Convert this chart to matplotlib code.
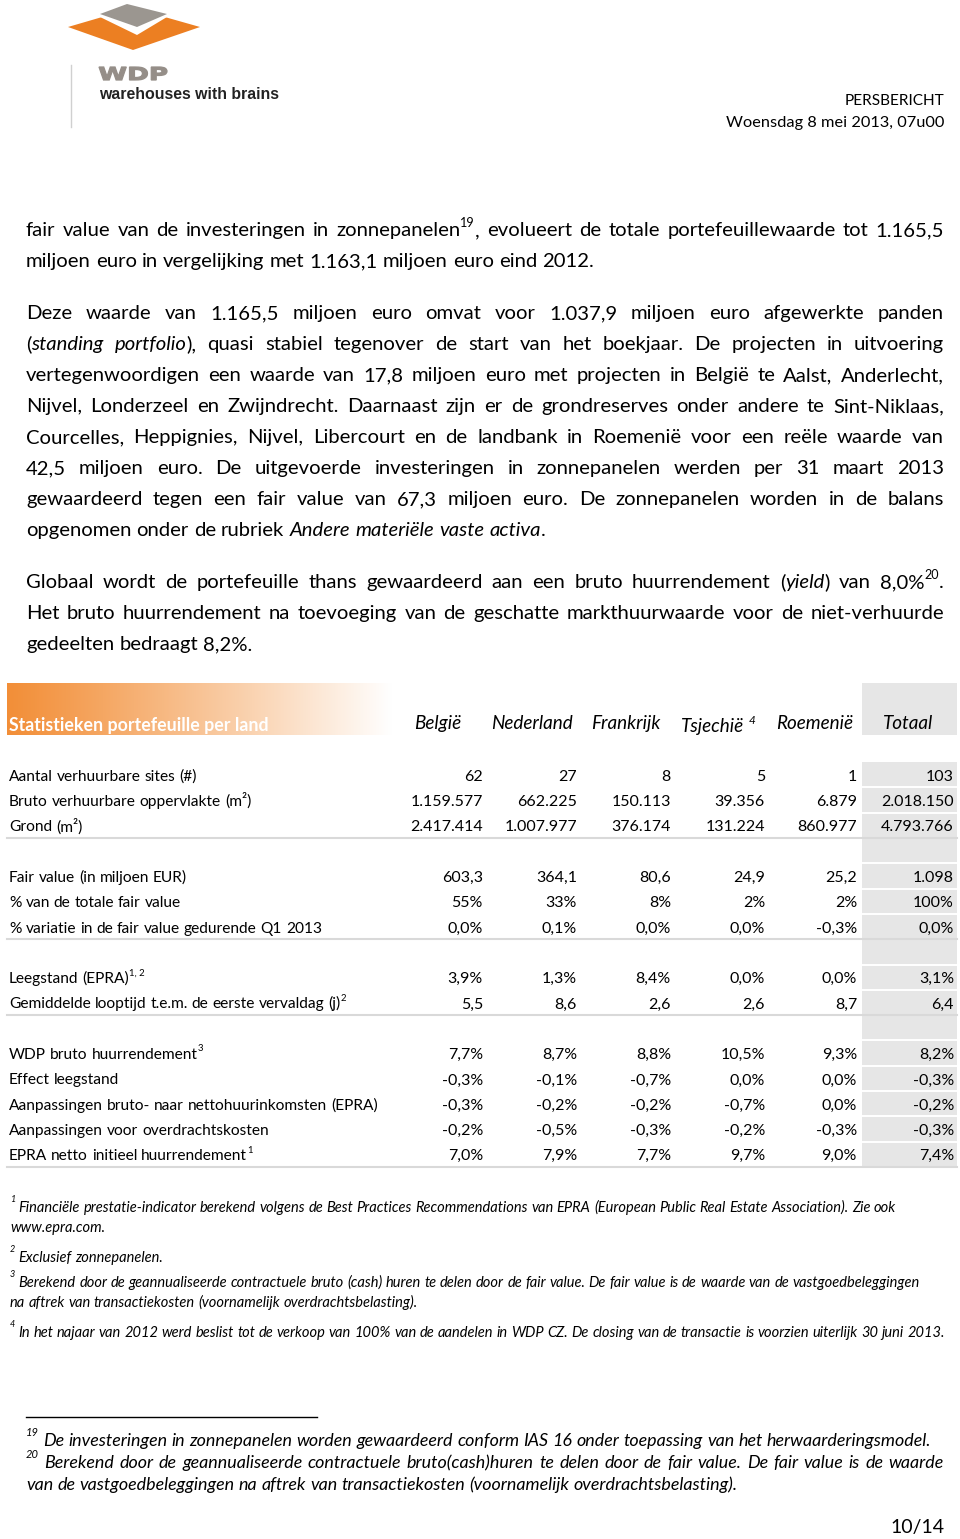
import numpy as np
import matplotlib.pyplot as plt
from matplotlib.patches import Polygon, Rectangle, PathPatch
from matplotlib.textpath import TextPath
from matplotlib.font_manager import FontProperties
from matplotlib.transforms import Affine2D

plt.rcParams['font.family'] = ['Lato', 'DejaVu Sans']

# --- table data -------------------------------------------------------------
countries = ['België', 'Nederland', 'Frankrijk', 'Tsjechië ^4^', 'Roemenië', 'Totaal']

sites = [62, 27, 8, 5, 1, 103]
bruto_opp = [1159577, 662225, 150113, 39356, 6879, 2018150]
grond = [2417414, 1007977, 376174, 131224, 860977, 4793766]
fair_value = [603.3, 364.1, 80.6, 24.9, 25.2, 1098]
pct_fair_value = [55, 33, 8, 2, 2, 100]
var_fair_value = [0.0, 0.1, 0.0, 0.0, -0.3, 0.0]
leegstand = [3.9, 1.3, 8.4, 0.0, 0.0, 3.1]
looptijd = [5.5, 8.6, 2.6, 2.6, 8.7, 6.4]
wdp_bruto = [7.7, 8.7, 8.8, 10.5, 9.3, 8.2]
effect_leegstand = [-0.3, -0.1, -0.7, 0.0, 0.0, -0.3]
aanp_netto = [-0.3, -0.2, -0.2, -0.7, 0.0, -0.2]
aanp_overdracht = [-0.2, -0.5, -0.3, -0.2, -0.3, -0.3]
epra_nir = [7.0, 7.9, 7.7, 9.7, 9.0, 7.4]

# (label, values, format) ; None = empty spacer row
rows = [
    ('Aantal verhuurbare sites (#)', sites, 'int'),
    ('Bruto verhuurbare oppervlakte (m²)', bruto_opp, 'int'),
    ('Grond (m²)', grond, 'int'),
    None,
    ('Fair value (in miljoen EUR)', fair_value, 'dec'),
    ('% van de totale fair value', pct_fair_value, 'pct0'),
    ('% variatie in de fair value gedurende Q1 2013', var_fair_value, 'pct1'),
    None,
    ('Leegstand (EPRA)^1, 2^', leegstand, 'pct1'),
    ('Gemiddelde looptijd t.e.m. de eerste vervaldag (j)^2^', looptijd, 'dec'),
    None,
    ('WDP bruto huurrendement^3^', wdp_bruto, 'pct1'),
    ('Effect leegstand', effect_leegstand, 'pct1'),
    ('Aanpassingen bruto- naar nettohuurinkomsten (EPRA)', aanp_netto, 'pct1'),
    ('Aanpassingen voor overdrachtskosten', aanp_overdracht, 'pct1'),
    ('EPRA netto initieel huurrendement^1^', epra_nir, 'pct1'),
]

body = [
    ("fair value van de investeringen in zonnepanelen^19^, evolueert de totale portefeuillewaarde tot 1.165,5", True),
    ("miljoen euro in vergelijking met 1.163,1 miljoen euro eind 2012.", False),
    (None, False),
    ("Deze waarde van 1.165,5 miljoen euro omvat voor 1.037,9 miljoen euro afgewerkte panden", True),
    ("(*standing portfolio*), quasi stabiel tegenover de start van het boekjaar. De projecten in uitvoering", True),
    ("vertegenwoordigen een waarde van 17,8 miljoen euro met projecten in België te Aalst, Anderlecht,", True),
    ("Nijvel, Londerzeel en Zwijndrecht. Daarnaast zijn er de grondreserves onder andere te Sint-Niklaas,", True),
    ("Courcelles, Heppignies, Nijvel, Libercourt en de landbank in Roemenië voor een reële waarde van", True),
    ("42,5 miljoen euro. De uitgevoerde investeringen in zonnepanelen werden per 31 maart 2013", True),
    ("gewaardeerd tegen een fair value van 67,3 miljoen euro. De zonnepanelen worden in de balans", True),
    ("opgenomen onder de rubriek *Andere materiële vaste activa*.", False),
    (None, False),
    ("Globaal wordt de portefeuille thans gewaardeerd aan een bruto huurrendement (*yield*) van 8,0%^20^.", True),
    ("Het bruto huurrendement na toevoeging van de geschatte markthuurwaarde voor de niet-verhuurde", True),
    ("gedeelten bedraagt 8,2%.", False),
]

notes = [
    ("^1^ Financiële prestatie-indicator berekend volgens de Best Practices Recommendations van EPRA (European Public Real Estate Association). Zie ook", 1212),
    ("www.epra.com.", 1232),
    ("^2^ Exclusief zonnepanelen.", 1262),
    ("^3^ Berekend door de geannualiseerde contractuele bruto (cash) huren te delen door de fair value. De fair value is de waarde van de vastgoedbeleggingen", 1287),
    ("na aftrek van transactiekosten (voornamelijk overdrachtsbelasting).", 1307),
    ("^4^ In het najaar van 2012 werd beslist tot de verkoop van 100% van de aandelen in WDP CZ. De closing van de transactie is voorzien uiterlijk 30 juni 2013.", 1337),
]

W, H = 960, 1539
fig = plt.figure(figsize=(9.6, 15.39), dpi=100)
ax = fig.add_axes([0, 0, 1, 1])
ax.set_xlim(0, W)
ax.set_ylim(H, 0)
renderer = fig.canvas.get_renderer()


def fmt(v, kind):
    if kind == 'int' or (kind == 'dec' and v >= 1000):
        return f"{int(v):,}".replace(',', '.')
    if kind == 'dec':
        return f"{v:.1f}".replace('.', ',')
    if kind == 'pct0':
        return f"{int(v)}%"
    return f"{v:.1f}%".replace('.', ',')


def parse(s):
    words, cur = [], []
    seg, ital, sup = '', False, False
    for ch in s:
        if ch in '*^ ' and not (ch == ' ' and sup):
            if seg:
                cur.append((seg, ital, sup))
            seg = ''
            if ch == '*':
                ital = not ital
            elif ch == '^':
                sup = not sup
            elif cur:
                words.append(cur)
                cur = []
        else:
            seg += ch
    if seg:
        cur.append((seg, ital, sup))
    if cur:
        words.append(cur)
    return words


def width_of(t):
    return t.get_window_extent(renderer).width


def rich(x, y, s, size, width=None, ha='left', italic=False, color='black',
         weight='normal', sup_rise=0.42):
    words = parse(s)
    arts = []
    for w in words:
        items = []
        for txt, it, sp in w:
            fs = size * 0.62 if sp else size
            dy = -size * 100 / 72 * sup_rise if sp else 0
            t = ax.text(0, y + dy, txt, fontsize=fs, color=color, weight=weight,
                        style='italic' if it != italic else 'normal', va='baseline')
            items.append(t)
        arts.append(items)
    ww = [[width_of(t) for t in items] for items in arts]
    tot = [sum(a) for a in ww]
    a = ax.text(0, 0, 'a a', fontsize=size, style='italic' if italic else 'normal')
    b = ax.text(0, 0, 'aa', fontsize=size, style='italic' if italic else 'normal')
    space = width_of(a) - width_of(b)
    a.remove()
    b.remove()
    n = len(words)
    gap = (width - sum(tot)) / (n - 1) if (width and n > 1) else space
    line_w = sum(tot) + gap * (n - 1)
    x0 = x - line_w if ha == 'right' else (x - line_w / 2 if ha == 'center' else x)
    cx = x0
    for items, widths in zip(arts, ww):
        for t, wd in zip(items, widths):
            t.set_x(cx)
            cx += wd
        cx += gap


# --- logo -------------------------------------------------------------------
orange = '#ec7f22'
ax.add_patch(Polygon([(68, 27), (133, 8), (200, 27), (133, 50)], closed=True,
                     facecolor=orange, edgecolor='none'))
ax.add_patch(Polygon([(100, 17), (127, 5), (167, 17), (137, 35)], closed=True,
                     facecolor='white', edgecolor='none'))
ax.add_patch(Polygon([(100, 14), (127, 4), (167, 14), (137, 27)], closed=True,
                     facecolor='#9b9690', edgecolor='none'))
ax.plot([71, 71], [65, 127], color='#d0d0d0', lw=1)

# "WDP" as a stretched outline so it fills the same box as the original
tp = TextPath((0, 0), 'WDP', size=10, prop=FontProperties(family='DejaVu Sans', weight='heavy'))
bb = tp.get_extents()
sx = (167 - 99) / bb.width
sy = (80 - 67) / bb.height
tr = Affine2D().translate(-bb.x0, -bb.y0).scale(sx, -sy).translate(99, 80)
ax.add_patch(PathPatch(tr.transform_path(tp), facecolor='#958e88',
                       edgecolor='#958e88', lw=0.9))
ax.text(99, 99, 'warehouses with brains', fontsize=11.4, weight='bold',
        color='#222222', family='Liberation Sans', va='baseline')

ax.text(944, 105, 'PERSBERICHT', fontsize=11.1, ha='right', va='baseline')
ax.text(944, 127, 'Woensdag 8 mei 2013, 07u00', fontsize=11.8, ha='right', va='baseline')

# --- body text --------------------------------------------------------------
by = 236
for line, just in body:
    if line is not None:
        rich(26, by, line, 14.6, width=918 if just else None)
        by += 31
    else:
        by += 21

# --- table ------------------------------------------------------------------
grad = np.linspace(0, 1, 400) ** 1.1
c0 = np.array([0.95, 0.56, 0.22])
img = (c0[None, :] * (1 - grad[:, None]) + np.ones(3)[None, :] * grad[:, None])[None, :, :]
ax.imshow(img, extent=(7, 392, 735, 683), aspect='auto', zorder=0)
ax.text(9, 731, 'Statistieken portefeuille per land', fontsize=12.8,
        weight='bold', color='white', va='baseline')

grey = '#e6e6e6'
ax.add_patch(Rectangle((862, 683), 95, 52, facecolor=grey, edgecolor='none'))

col_center = [438, 532, 626, 718, 815, 908]
col_right = [483, 577, 671, 765, 857, 954]
for i, c in enumerate(countries):
    rich(col_center[i], 729 if i != 3 else 732, c, 13.6, ha='center', italic=True)

top = 762
pitch = (1167 - 762) / len(rows)
ax.add_patch(Rectangle((862, top), 95, pitch * len(rows), facecolor=grey, edgecolor='none'))
for k in range(1, len(rows)):
    ax.plot([862, 957], [top + k * pitch] * 2, color='white', lw=1.4)

for k, r in enumerate(rows):
    base = top + k * pitch + pitch / 2 + 6
    if r is None:
        continue
    label, vals, kind = r
    rich(9, base, label, 11.2, sup_rise=0.5)
    for j, v in enumerate(vals):
        ax.text(col_right[j], base, fmt(v, kind), fontsize=11.5, ha='right', va='baseline')
    if k + 1 == len(rows) or rows[k + 1] is None:
        ax.plot([7, 957], [top + (k + 1) * pitch] * 2, color='#d9d9d9', lw=1.5)

# --- footnotes under table --------------------------------------------------
for line, y in notes:
    rich(10, y, line, 10.5, italic=True, sup_rise=0.7)

# --- page footnotes ---------------------------------------------------------
ax.plot([26, 317], [1417, 1417], color='black', lw=1)
rich(26, 1446, "^19^ De investeringen in zonnepanelen worden gewaardeerd conform IAS 16 onder toepassing van het herwaarderingsmodel.",
     12.9, italic=True, sup_rise=0.55)
rich(26, 1468, "^20^ Berekend door de geannualiseerde contractuele bruto(cash)huren te delen door de fair value. De fair value is de waarde",
     12.9, width=918, italic=True, sup_rise=0.55)
rich(26, 1490, "van de vastgoedbeleggingen na aftrek van transactiekosten (voornamelijk overdrachtsbelasting).",
     12.9, italic=True)

ax.text(944, 1533, '10/14', fontsize=14, ha='right', va='baseline')

ax.set_xlim(0, W)
ax.set_ylim(H, 0)
ax.axis('off')
fig.savefig('out.png', dpi=100)
